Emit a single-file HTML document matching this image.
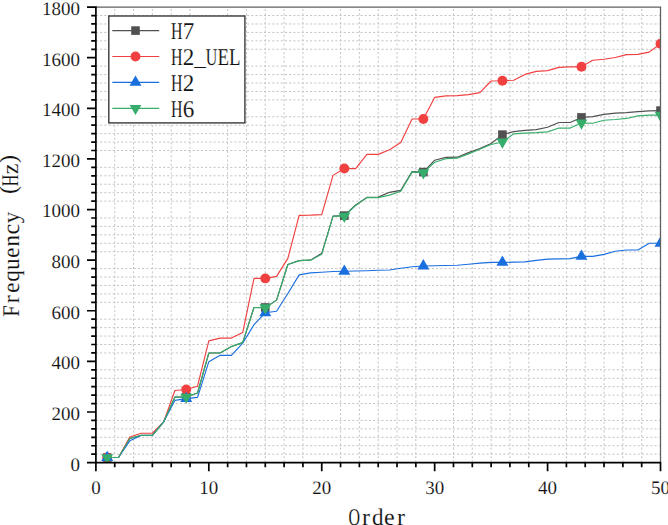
<!DOCTYPE html><html><head><meta charset="utf-8"><style>html,body{margin:0;padding:0;background:#fff;}body{width:668px;height:525px;overflow:hidden;}svg{display:block;}text{font-family:"Liberation Serif",serif;fill:#111;stroke:#fff;stroke-width:0.12px;text-rendering:geometricPrecision;}</style></head><body>
<svg width="668" height="525" viewBox="0 0 668 525">
<rect x="0" y="0" width="668" height="525" fill="#fff"/>
<defs><clipPath id="pc"><rect x="95.9" y="7.1" width="564.6" height="455.5"/></clipPath></defs>
<path d="M95.90 454.16H660.50M95.90 445.73H660.50M95.90 437.29H660.50M95.90 428.86H660.50M95.90 420.42H660.50M95.90 403.55H660.50M95.90 395.12H660.50M95.90 386.68H660.50M95.90 378.25H660.50M95.90 369.81H660.50M95.90 352.94H660.50M95.90 344.51H660.50M95.90 336.07H660.50M95.90 327.64H660.50M95.90 319.20H660.50M95.90 302.33H660.50M95.90 293.90H660.50M95.90 285.46H660.50M95.90 277.03H660.50M95.90 268.59H660.50M95.90 251.72H660.50M95.90 243.29H660.50M95.90 234.85H660.50M95.90 226.41H660.50M95.90 217.98H660.50M95.90 201.11H660.50M95.90 192.67H660.50M95.90 184.24H660.50M95.90 175.80H660.50M95.90 167.37H660.50M95.90 150.50H660.50M95.90 142.06H660.50M95.90 133.63H660.50M95.90 125.19H660.50M95.90 116.76H660.50M95.90 99.89H660.50M95.90 91.45H660.50M95.90 83.02H660.50M95.90 74.58H660.50M95.90 66.15H660.50M95.90 49.28H660.50M95.90 40.84H660.50M95.90 32.41H660.50M95.90 23.97H660.50M95.90 15.54H660.50" stroke="#c4c4c4" stroke-width="1" stroke-dasharray="2.1 2.1" fill="none"/>
<path d="M114.72 462.60V7.10M133.54 462.60V7.10M152.36 462.60V7.10M171.18 462.60V7.10M190.00 462.60V7.10M227.64 462.60V7.10M246.46 462.60V7.10M265.28 462.60V7.10M284.10 462.60V7.10M302.92 462.60V7.10M340.56 462.60V7.10M359.38 462.60V7.10M378.20 462.60V7.10M397.02 462.60V7.10M415.84 462.60V7.10M453.48 462.60V7.10M472.30 462.60V7.10M491.12 462.60V7.10M509.94 462.60V7.10M528.76 462.60V7.10M566.40 462.60V7.10M585.22 462.60V7.10M604.04 462.60V7.10M622.86 462.60V7.10M641.68 462.60V7.10" stroke="#c4c4c4" stroke-width="1" stroke-dasharray="2.1 2.2" fill="none"/>
<g clip-path="url(#pc)">
<path d="M107.19 457.54L118.48 457.54L129.78 438.56L141.07 435.27L152.36 435.27L163.65 421.86L174.94 397.06L186.24 397.06L197.53 393.01L208.82 353.03L220.11 353.03L231.40 346.45L242.70 342.65L253.99 307.48L265.28 307.48L276.57 300.14L287.86 264.46L299.16 260.66L310.45 260.16L321.74 253.32L333.03 216.12L344.32 215.62L355.62 204.99L366.91 197.40L378.20 197.14L389.49 192.34L400.78 190.31L412.08 171.59L423.37 172.09L434.66 160.20L445.95 157.42L457.24 157.16L468.54 152.61L479.83 148.56L491.12 143.50L502.41 134.64L513.70 131.60L525.00 130.34L536.29 129.58L547.58 127.30L558.87 122.49L570.16 122.49L581.46 117.43L592.75 116.67L604.04 114.40L615.33 113.13L626.62 112.62L637.92 111.61L649.21 110.85L660.50 110.60" stroke="#515151" stroke-width="1.15" fill="none" stroke-linejoin="round"/>
<g fill="#515151"><rect x="102.89" y="453.24" width="8.6" height="8.6"/><rect x="181.94" y="392.76" width="8.6" height="8.6"/><rect x="260.98" y="303.18" width="8.6" height="8.6"/><rect x="340.02" y="211.32" width="8.6" height="8.6"/><rect x="419.07" y="167.79" width="8.6" height="8.6"/><rect x="498.11" y="130.34" width="8.6" height="8.6"/><rect x="577.16" y="113.13" width="8.6" height="8.6"/><rect x="656.20" y="106.30" width="8.6" height="8.6"/></g>
<path d="M107.19 457.54L118.48 457.54L129.78 437.04L141.07 433.25L152.36 433.25L163.65 421.86L174.94 390.48L186.24 389.47L197.53 386.18L208.82 340.88L220.11 338.10L231.40 338.10L242.70 332.53L253.99 278.38L265.28 278.38L276.57 276.35L287.86 258.38L299.16 215.36L310.45 215.11L321.74 214.61L333.03 175.38L344.32 168.55L355.62 168.55L366.91 154.38L378.20 154.38L389.49 149.82L400.78 142.48L412.08 118.95L423.37 118.95L434.66 97.44L445.95 95.92L457.24 95.67L468.54 94.66L479.83 92.63L491.12 80.99L502.41 80.74L513.70 80.23L525.00 74.41L536.29 71.38L547.58 70.62L558.87 67.33L570.16 66.82L581.46 66.82L592.75 60.24L604.04 59.23L615.33 57.46L626.62 54.67L637.92 54.42L649.21 52.14L660.50 43.79" stroke="#F14040" stroke-width="1.15" fill="none" stroke-linejoin="round"/>
<g fill="#F14040"><circle cx="107.19" cy="457.54" r="4.95"/><circle cx="186.24" cy="389.47" r="4.95"/><circle cx="265.28" cy="278.38" r="4.95"/><circle cx="344.32" cy="168.55" r="4.95"/><circle cx="423.37" cy="118.95" r="4.95"/><circle cx="502.41" cy="80.74" r="4.95"/><circle cx="581.46" cy="66.82" r="4.95"/><circle cx="660.50" cy="43.79" r="4.95"/></g>
<path d="M107.19 457.54L118.48 457.54L129.78 440.84L141.07 435.52L152.36 435.27L163.65 421.86L174.94 400.35L186.24 398.58L197.53 397.31L208.82 361.63L220.11 355.30L231.40 355.30L242.70 343.16L253.99 324.68L265.28 312.79L276.57 311.27L287.86 293.56L299.16 274.83L310.45 272.81L321.74 272.30L333.03 271.54L344.32 271.29L355.62 271.04L366.91 270.78L378.20 270.28L389.49 270.02L400.78 268.25L412.08 266.74L423.37 265.98L434.66 265.72L445.95 265.47L457.24 265.22L468.54 264.20L479.83 263.19L491.12 262.43L502.41 262.43L513.70 262.18L525.00 261.93L536.29 260.41L547.58 259.14L558.87 258.89L570.16 258.64L581.46 256.36L592.75 256.36L604.04 254.34L615.33 251.30L626.62 250.03L637.92 250.03L649.21 243.20L660.50 243.20" stroke="#1A6FDF" stroke-width="1.15" fill="none" stroke-linejoin="round"/>
<g fill="#1A6FDF"><path d="M107.19 450.67L113.19 460.97L101.19 460.97Z"/><path d="M186.24 391.71L192.24 402.01L180.24 402.01Z"/><path d="M265.28 305.92L271.28 316.22L259.28 316.22Z"/><path d="M344.32 264.42L350.32 274.72L338.32 274.72Z"/><path d="M423.37 259.11L429.37 269.41L417.37 269.41Z"/><path d="M502.41 255.57L508.41 265.87L496.41 265.87Z"/><path d="M581.46 249.49L587.46 259.79L575.46 259.79Z"/><path d="M660.50 236.33L666.50 246.63L654.50 246.63Z"/></g>
<path d="M107.19 457.54L118.48 457.54L129.78 438.56L141.07 435.27L152.36 435.27L163.65 421.86L174.94 397.06L186.24 397.06L197.53 393.01L208.82 353.03L220.11 353.03L231.40 346.45L242.70 342.65L253.99 307.48L265.28 307.73L276.57 300.14L287.86 264.46L299.16 260.66L310.45 260.16L321.74 254.34L333.03 216.12L344.32 216.12L355.62 205.50L366.91 197.65L378.20 197.65L389.49 195.12L400.78 191.32L412.08 172.09L423.37 172.60L434.66 162.22L445.95 158.68L457.24 158.17L468.54 153.87L479.83 149.32L491.12 144.51L502.41 141.98L513.70 133.88L525.00 133.12L536.29 132.62L547.58 131.86L558.87 128.06L570.16 128.06L581.46 123.00L592.75 123.25L604.04 120.22L615.33 119.46L626.62 118.44L637.92 115.91L649.21 115.15L660.50 115.15" stroke="#37AD6B" stroke-width="1.15" fill="none" stroke-linejoin="round"/>
<g fill="#37AD6B"><path d="M101.29 454.14L113.09 454.14L107.19 464.34Z"/><path d="M180.34 393.66L192.14 393.66L186.24 403.86Z"/><path d="M259.38 304.33L271.18 304.33L265.28 314.53Z"/><path d="M338.42 212.72L350.22 212.72L344.32 222.92Z"/><path d="M417.47 169.20L429.27 169.20L423.37 179.40Z"/><path d="M496.51 138.58L508.31 138.58L502.41 148.78Z"/><path d="M575.56 119.60L587.36 119.60L581.46 129.80Z"/><path d="M654.60 111.75L666.40 111.75L660.50 121.95Z"/></g>
</g>
<path d="M95.90 7.10H660.50V462.60" stroke="#606060" stroke-width="1.3" fill="none"/>
<path d="M95.90 6.30V471.20M95.10 462.60H661.30M87.00 462.60H95.90M87.00 411.99H95.90M87.00 361.38H95.90M87.00 310.77H95.90M87.00 260.16H95.90M87.00 209.54H95.90M87.00 158.93H95.90M87.00 108.32H95.90M87.00 57.71H95.90M87.00 7.10H95.90M91.20 454.16H95.90M91.20 445.73H95.90M91.20 437.29H95.90M91.20 428.86H95.90M91.20 420.42H95.90M91.20 403.55H95.90M91.20 395.12H95.90M91.20 386.68H95.90M91.20 378.25H95.90M91.20 369.81H95.90M91.20 352.94H95.90M91.20 344.51H95.90M91.20 336.07H95.90M91.20 327.64H95.90M91.20 319.20H95.90M91.20 302.33H95.90M91.20 293.90H95.90M91.20 285.46H95.90M91.20 277.03H95.90M91.20 268.59H95.90M91.20 251.72H95.90M91.20 243.29H95.90M91.20 234.85H95.90M91.20 226.41H95.90M91.20 217.98H95.90M91.20 201.11H95.90M91.20 192.67H95.90M91.20 184.24H95.90M91.20 175.80H95.90M91.20 167.37H95.90M91.20 150.50H95.90M91.20 142.06H95.90M91.20 133.63H95.90M91.20 125.19H95.90M91.20 116.76H95.90M91.20 99.89H95.90M91.20 91.45H95.90M91.20 83.02H95.90M91.20 74.58H95.90M91.20 66.15H95.90M91.20 49.28H95.90M91.20 40.84H95.90M91.20 32.41H95.90M91.20 23.97H95.90M91.20 15.54H95.90M208.82 462.60V471.20M321.74 462.60V471.20M434.66 462.60V471.20M547.58 462.60V471.20M660.50 462.60V471.20M114.72 462.60V467.20M133.54 462.60V467.20M152.36 462.60V467.20M171.18 462.60V467.20M190.00 462.60V467.20M227.64 462.60V467.20M246.46 462.60V467.20M265.28 462.60V467.20M284.10 462.60V467.20M302.92 462.60V467.20M340.56 462.60V467.20M359.38 462.60V467.20M378.20 462.60V467.20M397.02 462.60V467.20M415.84 462.60V467.20M453.48 462.60V467.20M472.30 462.60V467.20M491.12 462.60V467.20M509.94 462.60V467.20M528.76 462.60V467.20M566.40 462.60V467.20M585.22 462.60V467.20M604.04 462.60V467.20M622.86 462.60V467.20M641.68 462.60V467.20" stroke="#000" stroke-width="1.7" fill="none"/>
<text x="80" y="470.50" font-size="19" text-anchor="end">0</text>
<text x="80" y="419.89" font-size="19" text-anchor="end">200</text>
<text x="80" y="369.28" font-size="19" text-anchor="end">400</text>
<text x="80" y="318.67" font-size="19" text-anchor="end">600</text>
<text x="80" y="268.06" font-size="19" text-anchor="end">800</text>
<text x="80" y="217.44" font-size="19" text-anchor="end">1000</text>
<text x="80" y="166.83" font-size="19" text-anchor="end">1200</text>
<text x="80" y="116.22" font-size="19" text-anchor="end">1400</text>
<text x="80" y="65.61" font-size="19" text-anchor="end">1600</text>
<text x="80" y="15.00" font-size="19" text-anchor="end">1800</text>
<text x="95.90" y="493.9" font-size="19" text-anchor="middle">0</text>
<text x="208.82" y="493.9" font-size="19" text-anchor="middle">10</text>
<text x="321.74" y="493.9" font-size="19" text-anchor="middle">20</text>
<text x="434.66" y="493.9" font-size="19" text-anchor="middle">30</text>
<text x="547.58" y="493.9" font-size="19" text-anchor="middle">40</text>
<text x="660.50" y="493.9" font-size="19" text-anchor="middle">50</text>
<rect x="108.8" y="16.0" width="136.10" height="106.90" fill="#fff" stroke="#3a3a3a" stroke-width="1.4"/>
<path d="M112.3 30.6H159.2" stroke="#515151" stroke-width="1.15"/>
<g fill="#515151"><rect x="131.20" y="26.30" width="8.6" height="8.6"/></g>
<text transform="translate(176.80 39.00) scale(0.665 1)" font-size="24" text-anchor="middle">H</text><text transform="translate(188.40 39.00) scale(0.960 1)" font-size="24" text-anchor="middle">7</text>
<path d="M112.3 56.5H159.2" stroke="#F14040" stroke-width="1.15"/>
<g fill="#F14040"><circle cx="135.50" cy="56.50" r="4.95"/></g>
<text transform="translate(176.80 64.90) scale(0.665 1)" font-size="24" text-anchor="middle">H</text><text transform="translate(188.40 64.90) scale(0.960 1)" font-size="24" text-anchor="middle">2</text><text transform="translate(200.00 64.90) scale(0.960 1)" font-size="24" text-anchor="middle">_</text><text transform="translate(211.60 64.90) scale(0.665 1)" font-size="24" text-anchor="middle">U</text><text transform="translate(223.20 64.90) scale(0.786 1)" font-size="24" text-anchor="middle">E</text><text transform="translate(234.80 64.90) scale(0.786 1)" font-size="24" text-anchor="middle">L</text>
<path d="M112.3 82.4H159.2" stroke="#1A6FDF" stroke-width="1.15"/>
<g fill="#1A6FDF"><path d="M135.50 75.53L141.50 85.83L129.50 85.83Z"/></g>
<text transform="translate(176.80 90.80) scale(0.665 1)" font-size="24" text-anchor="middle">H</text><text transform="translate(188.40 90.80) scale(0.960 1)" font-size="24" text-anchor="middle">2</text>
<path d="M112.3 108.3H159.2" stroke="#37AD6B" stroke-width="1.15"/>
<g fill="#37AD6B"><path d="M129.60 104.90L141.40 104.90L135.50 115.10Z"/></g>
<text transform="translate(176.80 116.50) scale(0.665 1)" font-size="24" text-anchor="middle">H</text><text transform="translate(188.40 116.50) scale(0.960 1)" font-size="24" text-anchor="middle">6</text>
<text transform="translate(354.25 525.20) scale(0.665 1)" font-size="24" text-anchor="middle">O</text><text transform="translate(365.95 525.20) scale(1.000 1)" font-size="24" text-anchor="middle">r</text><text transform="translate(377.65 525.20) scale(0.960 1)" font-size="24" text-anchor="middle">d</text><text transform="translate(389.35 525.20) scale(1.000 1)" font-size="24" text-anchor="middle">e</text><text transform="translate(401.05 525.20) scale(1.000 1)" font-size="24" text-anchor="middle">r</text>
<text transform="translate(18.6 311.05) rotate(-90) scale(0.863 1)" font-size="24" text-anchor="middle">F</text><text transform="translate(18.6 299.35) rotate(-90) scale(1.000 1)" font-size="24" text-anchor="middle">r</text><text transform="translate(18.6 287.65) rotate(-90) scale(1.000 1)" font-size="24" text-anchor="middle">e</text><text transform="translate(18.6 275.95) rotate(-90) scale(0.960 1)" font-size="24" text-anchor="middle">q</text><text transform="translate(18.6 264.25) rotate(-90) scale(0.960 1)" font-size="24" text-anchor="middle">u</text><text transform="translate(18.6 252.55) rotate(-90) scale(1.000 1)" font-size="24" text-anchor="middle">e</text><text transform="translate(18.6 240.85) rotate(-90) scale(0.960 1)" font-size="24" text-anchor="middle">n</text><text transform="translate(18.6 229.15) rotate(-90) scale(1.000 1)" font-size="24" text-anchor="middle">c</text><text transform="translate(18.6 217.45) rotate(-90) scale(0.960 1)" font-size="24" text-anchor="middle">y</text><text transform="translate(15.8 190.00) rotate(-90) scale(1.000 1)" font-size="24" text-anchor="middle">(</text><text transform="translate(18.4 180.40) rotate(-90) scale(0.665 1)" font-size="24" text-anchor="middle">H</text><text transform="translate(18.4 168.80) rotate(-90) scale(1.000 1)" font-size="24" text-anchor="middle">z</text><text transform="translate(15.8 159.10) rotate(-90) scale(1.000 1)" font-size="24" text-anchor="middle">)</text>
</svg></body></html>
